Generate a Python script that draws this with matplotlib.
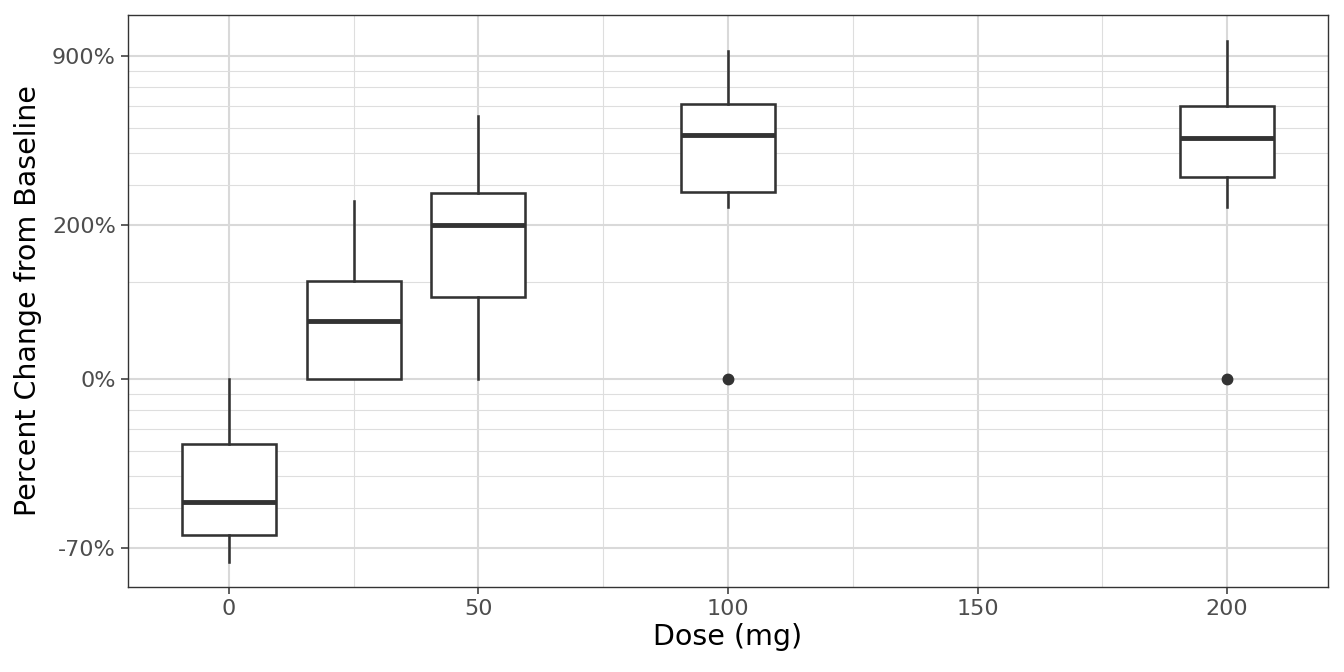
import numpy as np
import matplotlib
matplotlib.use('Agg')
import matplotlib.pyplot as plt
from matplotlib.ticker import FixedLocator, FuncFormatter, NullFormatter

# 박스플롯 요약 통계 (percent change from baseline)
doses = [0, 25, 50, 100, 200]
whis_lo = [-72.9, 0.0, 0.0, 241.0, 241.0]
q1 = [-67.1, 0.0, 79.4, 279.0, 322.0]
median = [-58.4, 51.3, 200.0, 469.0, 457.0]
q3 = [-37.1, 101.0, 277.0, 610.0, 600.0]
whis_hi = [0.0, 256.0, 552.0, 936.0, 1013.0]
outliers = [[], [], [], [0.0], [0.0]]

y_major = [-70, 0, 200, 900]
y_minor = [-60, -50, -40, -30, -20, -10, 100, 300, 400, 500, 600, 700, 800]
x_major = [0, 50, 100, 150, 200]
x_minor = [25, 75, 125, 175]


def fwd(p):
    return np.log10(1 + np.asarray(p) / 100.0)


def inv(v):
    return (10 ** np.asarray(v) - 1) * 100.0


fig = plt.figure(figsize=(13.44, 6.72), dpi=100)
ax = fig.add_axes([128 / 1344, 1 - 587 / 672, 1200 / 1344, 572 / 672])
ax.set_yscale('function', functions=(fwd, inv))

stats = []
for i in range(len(doses)):
    stats.append({'whislo': whis_lo[i], 'q1': q1[i], 'med': median[i],
                  'q3': q3[i], 'whishi': whis_hi[i], 'fliers': outliers[i]})

dark = '#333333'
ax.bxp(stats, positions=doses, widths=18.8, showcaps=False, patch_artist=True,
       boxprops=dict(facecolor='white', edgecolor=dark, linewidth=1.85),
       medianprops=dict(color=dark, linewidth=3.5, solid_capstyle='butt'),
       whiskerprops=dict(color=dark, linewidth=1.85),
       flierprops=dict(marker='o', markerfacecolor=dark, markeredgecolor=dark,
                       markersize=7.5),
       manage_ticks=False, zorder=3)

ax.set_xlim(-20.2, 220.2)
ax.set_ylim(inv(-0.644), inv(1.127))

ax.xaxis.set_major_locator(FixedLocator(x_major))
ax.xaxis.set_minor_locator(FixedLocator(x_minor))
ax.yaxis.set_major_locator(FixedLocator(y_major))
ax.yaxis.set_minor_locator(FixedLocator(y_minor))
ax.yaxis.set_major_formatter(FuncFormatter(lambda v, pos: '%d%%' % round(v)))
ax.yaxis.set_minor_formatter(NullFormatter())
ax.xaxis.set_minor_formatter(NullFormatter())

ax.grid(True, which='major', color='#d9d9d9', linewidth=1.5, zorder=0)
ax.grid(True, which='minor', color='#dedede', linewidth=0.8, zorder=0)
ax.set_axisbelow(True)

ax.tick_params(which='major', length=5.3, width=1.1, color=dark,
               labelsize=16, labelcolor='#4d4d4d', pad=3.5)
ax.tick_params(which='minor', length=0)
for s in ax.spines.values():
    s.set_color(dark)
    s.set_linewidth(1.0)

ax.set_xlabel('Dose (mg)', fontsize=20.5, color='black', labelpad=3)
ax.set_ylabel('Percent Change from Baseline', fontsize=20.5, color='black', labelpad=7)

fig.savefig('out.png', dpi=100, facecolor='white')
